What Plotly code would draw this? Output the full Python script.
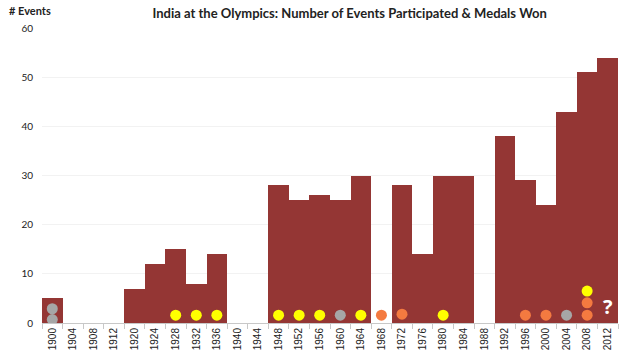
import plotly.graph_objects as go

years = ["1900", "1904", "1908", "1912", "1920", "1924", "1928", "1932", "1936", "1940",
         "1944", "1948", "1952", "1956", "1960", "1964", "1968", "1972", "1976", "1980",
         "1984", "1988", "1992", "1996", "2000", "2004", "2008", "2012"]
events = [5, 0, 0, 0, 7, 12, 15, 8, 14, 0,
          0, 28, 25, 26, 25, 30, 0, 28, 14, 30,
          30, 0, 38, 29, 24, 43, 51, 54]

medal_years = ["1900", "1900", "1928", "1932", "1936", "1948", "1952", "1956", "1960", "1964",
               "1968", "1972", "1980", "1996", "2000", "2004", "2008", "2008", "2008"]
medal_types = ["Silver", "Silver", "Gold", "Gold", "Gold", "Gold", "Gold", "Gold", "Silver", "Gold",
               "Bronze", "Bronze", "Gold", "Bronze", "Bronze", "Silver", "Bronze", "Bronze", "Gold"]
medal_y = [0.7, 2.9, 1.6, 1.6, 1.6, 1.6, 1.6, 1.6, 1.6, 1.6,
           1.6, 1.8, 1.6, 1.6, 1.6, 1.6, 1.6, 4.1, 6.5]

medal_colors = {"Gold": "#ffff00", "Silver": "#a6a6a6", "Bronze": "#f47a40"}

fig = go.Figure()
fig.add_trace(go.Bar(
    x=years, y=[v if v > 0 else None for v in events],
    marker=dict(color="#943634", line=dict(color="#943634", width=0)),
    showlegend=False, hoverinfo="x+y",
))
fig.add_trace(go.Scatter(
    x=medal_years, y=medal_y, mode="markers",
    marker=dict(size=11, color=[medal_colors[t] for t in medal_types], line=dict(width=0)),
    showlegend=False, text=medal_types,
))
fig.add_annotation(x=years.index("2012"), y=3.3, text="<b>?</b>", showarrow=False,
                   font=dict(family="Open Sans", size=20, color="white"))

fig.update_layout(
    width=630, height=355,
    margin=dict(l=42, r=12, t=28, b=32),
    paper_bgcolor="white", plot_bgcolor="white",
    bargap=0,
    title=dict(text="<b>India at the Olympics: Number of Events Participated & Medals Won</b>",
               x=0.555, xanchor="center", y=0.963, yanchor="middle",
               font=dict(family="Lato", size=13, color="#222222")),
    xaxis=dict(type="category", categoryorder="array", categoryarray=years,
               range=[-0.5, len(years) - 0.5], automargin=False,
               tickangle=-90, tickfont=dict(family="Liberation Sans", size=10, color="#222222"),
               showline=True, linecolor="#c8c8c8", linewidth=1,
               ticks="outside", tickson="boundaries", ticklen=5, tickcolor="#c8c8c8",
               showgrid=False),
    yaxis=dict(range=[0, 60], dtick=10, showgrid=True, gridcolor="#f2f2f2", gridwidth=1,
               zeroline=False, showline=False, automargin=False,
               tickfont=dict(family="Lato", size=10, color="#222222"), ticklabelstandoff=8),
    font=dict(family="Lato"),
)
fig.add_annotation(xref="paper", yref="paper", x=-0.06, y=1.058, xanchor="left", yanchor="middle",
                   text="<b># Events</b>", showarrow=False,
                   font=dict(family="Lato", size=11, color="#222222"))

fig.write_html("out.html")
